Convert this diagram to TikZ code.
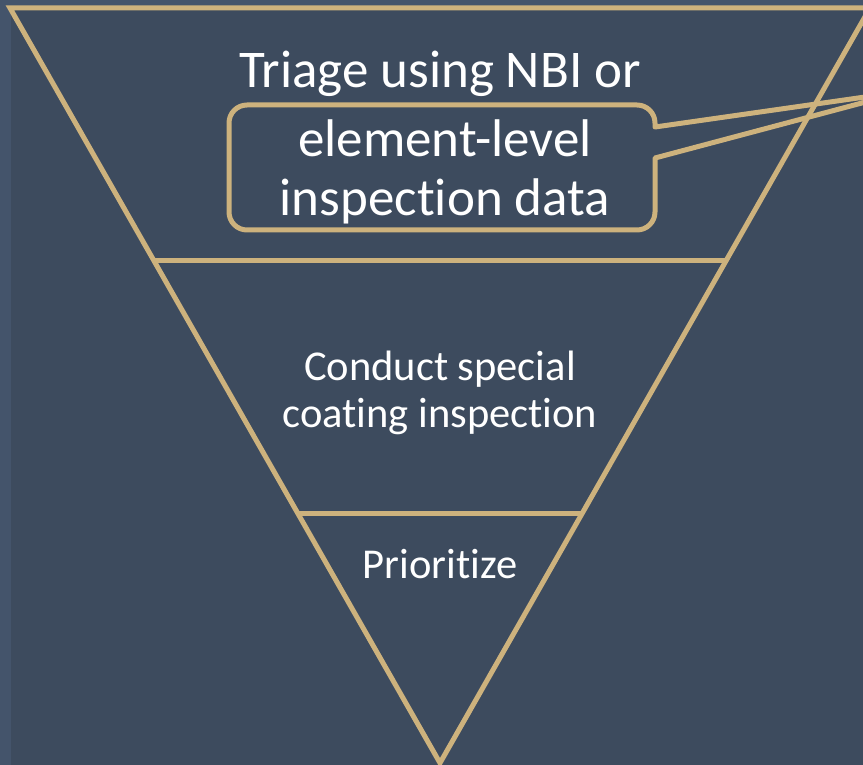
\documentclass[tikz,border=0pt]{standalone}
\usepackage{fontspec}
\setmainfont[Ligatures=NoCommon]{Carlito}
\usetikzlibrary{calc}
\definecolor{slate}{RGB}{61,75,94}
\definecolor{slateedge}{RGB}{68,84,107}
\definecolor{tan}{RGB}{205,178,125}
\begin{document}
\begin{tikzpicture}[
  x=1pt, y=-1pt,
  outline/.style={draw=tan, line width=5pt},
  bigtext/.style={text=white, font=\fontsize{53}{59}\selectfont, align=center, inner sep=0pt},
  midtext/.style={text=white, font=\fontsize{42.5}{47}\selectfont, align=center, inner sep=0pt}
]
\useasboundingbox (0,0) rectangle (863,765);
\clip (0,0) rectangle (863,765);
\fill[slateedge] (0,0) rectangle (863,765);
\fill[slate] (11,8) rectangle (863,765);

\coordinate (topL) at (10,8);
\coordinate (topR) at (870,8);
\coordinate (apex) at (440,763);
\coordinate (cutAL) at ($(topL)!0.334!(apex)$);
\coordinate (cutAR) at ($(topR)!0.334!(apex)$);
\coordinate (cutBL) at ($(topL)!0.669!(apex)$);
\coordinate (cutBR) at ($(topR)!0.669!(apex)$);
\draw[outline] (topL) -- (topR) -- (apex) -- cycle;
\draw[outline] (cutAL) -- (cutAR);
\draw[outline] (cutBL) -- (cutBR);

\coordinate (tip) at (907,91);
\draw[outline, line join=round] (655,158) -- (tip) -- (655,127) -- (655,123)
  arc[start angle=0, end angle=-90, radius=18] -- (247,105)
  arc[start angle=-90, end angle=-180, radius=18] -- (229,212)
  arc[start angle=180, end angle=90, radius=18] -- (637,230)
  arc[start angle=90, end angle=0, radius=18] -- cycle;

\node[bigtext, anchor=base] (triage) at (440,88) {Triage using NBI or};
\node[bigtext, anchor=base] (data) at (445,216) {element-level\\ inspection data};
\node[midtext, anchor=base] (coating) at (440,427) {Conduct special\\coating inspection};
\node[midtext, anchor=base] (prioritize) at (440,578) {Prioritize};
\end{tikzpicture}
\end{document}
